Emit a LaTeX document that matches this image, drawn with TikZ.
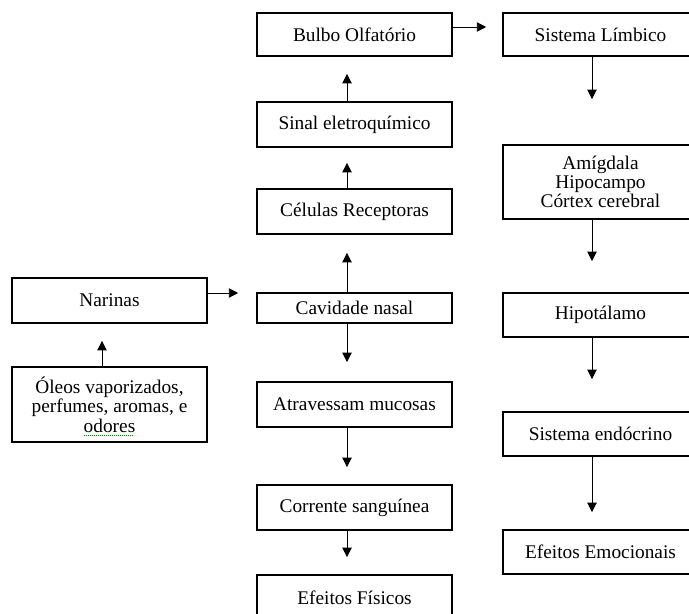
\documentclass[tikz,border=0pt]{standalone}
\usepackage{fontspec}
\setmainfont{Liberation Serif}
\usetikzlibrary{arrows.meta,calc}
% green dotted underline (spell check mark)
\newcommand\sublinhaverde[1]{\setbox0=\hbox{#1}\rlap{\raisebox{-2.5pt}[0pt][0pt]{\color{green!55!black}\leaders\hbox to 1.5pt{\hss\rule{0.7pt}{0.6pt}\hss}\hskip\wd0}}\box0}

\begin{document}
\begin{tikzpicture}[x=0.75pt,y=0.75pt,yscale=-1,
  caixa/.style={draw, line width=1.4pt, align=center, inner sep=0pt, minimum width=146pt, font=\fontsize{14.5}{14.5}\selectfont},
  seta/.style={line width=0.6pt, -{Triangle[length=7pt,width=7pt]}}]
\useasboundingbox (0,0) rectangle (689,614);

%Shape: Rectangle [left column]
\node (narinas) at (109.5,300.5) [caixa, minimum height=33.75pt] {Narinas};
\node (oleos) at (109.5,404.5) [caixa, minimum height=56.25pt] {Óleos vaporizados,\\perfumes, aromas, e\\\sublinhaverde{odores}};
%Shape: Rectangle [middle column]
\node (bulbo) at (354.5,34.5) [caixa, minimum height=32.25pt] {Bulbo Olfatório};
\node (sinal) at (354.5,124.5) [caixa, minimum height=33.75pt] {Sinal eletroquímico};
\node (celulas) at (354.5,211.5) [caixa, minimum height=33.75pt] {Células Receptoras};
\node (cavidade) at (354.5,308) [caixa, minimum height=22.5pt] {Cavidade nasal};
\node (mucosas) at (354.5,404.5) [caixa, minimum height=33.75pt] {Atravessam mucosas};
\node (corrente) at (354.5,507.5) [caixa, minimum height=33.75pt] {Corrente sanguínea};
\node (fisicos) at (354.5,597.5) [caixa, minimum height=33.75pt] {Efeitos Físicos};
%Shape: Rectangle [right column]
\node (limbico) at (600.5,34.5) [caixa, minimum height=32.25pt] {Sistema Límbico};
\node (amigdala) at (600.5,182) [caixa, minimum height=55.5pt] {Amígdala\\Hipocampo\\Córtex cerebral};
\node (hipotalamo) at (600.5,315) [caixa, minimum height=33pt] {Hipotálamo};
\node (endocrino) at (600.5,434) [caixa, minimum height=33pt] {Sistema endócrino};
\node (emocionais) at (600.5,552) [caixa, minimum height=33pt] {Efeitos Emocionais};

%Straight Lines [arrows]
\draw [seta, shorten >=12pt] ($(bulbo.east)+(0,-7.5)$) -- ($(limbico.west)+(0,-7.5)$);
\draw [seta, shorten >=12.75pt] ($(sinal.north)+(-7.5,0)$) -- ($(bulbo.south)+(-7.5,0)$);
\draw [seta, shorten >=11.25pt] ($(celulas.north)+(-7.5,0)$) -- ($(sinal.south)+(-7.5,0)$);
\draw [seta, shorten >=13.5pt] ($(cavidade.north)+(-7.5,0)$) -- ($(celulas.south)+(-7.5,0)$);
\draw [seta, shorten >=13.5pt] ($(narinas.east)+(0,-7.5)$) -- ($(cavidade.west)+(0,-15)$);
\draw [seta, shorten >=12.75pt] ($(oleos.north)+(-7.5,0)$) -- ($(narinas.south)+(-7.5,0)$);
\draw [seta, shorten >=14.25pt] ($(cavidade.south)+(-7.5,0)$) -- ($(mucosas.north)+(-7.5,0)$);
\draw [seta, shorten >=12.75pt] ($(mucosas.south)+(-7.5,0)$) -- ($(corrente.north)+(-7.5,0)$);
\draw [seta, shorten >=12.75pt] ($(corrente.south)+(-7.5,0)$) -- ($(fisicos.north)+(-7.5,0)$);
\draw [seta, shorten >=33.75pt] ($(limbico.south)+(-8.5,0)$) -- ($(amigdala.north)+(-8.5,0)$);
\draw [seta, shorten >=23.25pt] ($(amigdala.south)+(-8.5,0)$) -- ($(hipotalamo.north)+(-8.5,0)$);
\draw [seta, shorten >=24pt] ($(hipotalamo.south)+(-8.5,0)$) -- ($(endocrino.north)+(-8.5,0)$);
\draw [seta, shorten >=12.75pt] ($(endocrino.south)+(-8.5,0)$) -- ($(emocionais.north)+(-8.5,0)$);

\end{tikzpicture}
\end{document}
